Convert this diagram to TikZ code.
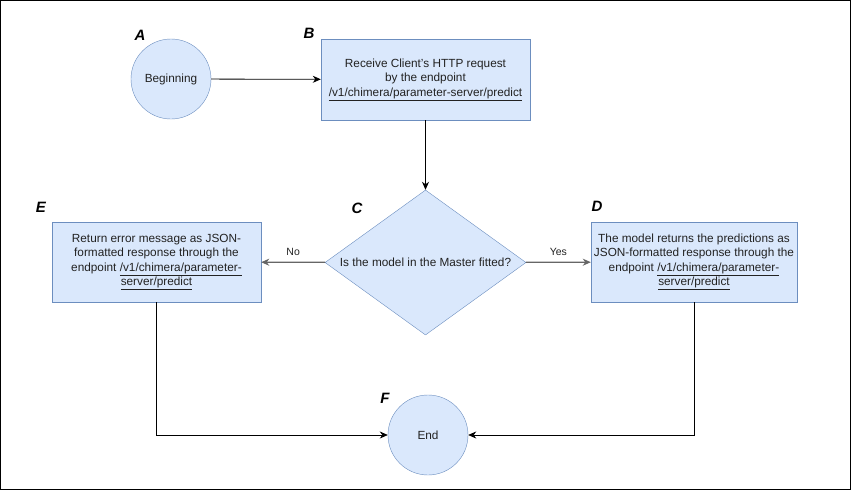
\documentclass[tikz,border=0pt]{standalone}
\usepackage{fontspec}
\setmainfont{Liberation Sans}
\usetikzlibrary{shapes.geometric,arrows.meta}

\definecolor{boxfill}{HTML}{DAE8FC}
\definecolor{boxline}{HTML}{6C8EBF}
\definecolor{txtgray}{HTML}{222222}
\definecolor{arrgray}{HTML}{666666}

\begin{document}
\begin{tikzpicture}[x=1pt,y=-1pt,
    every node/.style={font=\fontsize{11.8}{14.5}\selectfont, text=txtgray},
    terminal/.style={draw=boxline, fill=boxfill, circle, minimum size=80pt, inner sep=0pt},
    process/.style={draw=boxline, fill=boxfill, rectangle, align=center, inner sep=0pt},
    decision/.style={draw=boxline, fill=boxfill, diamond, aspect=1.39, inner sep=0pt,
        minimum width=201pt, minimum height=145pt},
    tag/.style={font=\fontsize{15}{18}\selectfont\bfseries\itshape, text=black},
    flow/.style={-{Stealth[length=8pt,width=7pt,inset=2.5pt]}, line width=0.8pt},
    choice/.style={flow, draw=arrgray, line width=1.3pt}]

      \useasboundingbox (0,0) rectangle (852,491);
      \draw[line width=1pt] (0.5,0.5) rectangle (850.5,489.5);

      \node[terminal] (a) at (171,79) {Beginning};
      \node[process, minimum width=209pt, minimum height=81pt] (b) at (425.5,79.5)
        {Receive Client's HTTP request\\ by the endpoint\\ \underline{/v1/chimera/parameter-server/predict}};
      \node[decision] (c) at (425.5,262.5) {Is the model in the Master fitted?};
      \node[process, minimum width=206pt, minimum height=80pt] (d) at (694,262)
        {The model returns the predictions as\\ JSON-formatted response through the\\
         endpoint \underline{/v1/chimera/parameter-}\\ \underline{server/predict}};
      \node[process, minimum width=209pt, minimum height=80pt] (e) at (156.5,262)
        {Return error message as JSON-\\ formatted response through the\\
         endpoint \underline{/v1/chimera/parameter-}\\ \underline{server/predict}};
      \node[terminal] (f) at (428,435) {End};

      \node[tag] (la) at (140,35) {A};
      \node[tag] (lb) at (309,33) {B};
      \node[tag] (lc) at (357,208) {C};
      \node[tag] (ld) at (597,206) {D};
      \node[tag] (le) at (41,207) {E};
      \node[tag] (lf) at (385,398) {F};

      \draw[flow] (a) -- (b);
      \draw[flow] (b) -- (c);
      \draw[choice] (c) -- (e) node [midway, above=3pt, font=\fontsize{10.5}{12}\selectfont] {No};
      \draw[choice] (c) -- (d) node [midway, above=3pt, font=\fontsize{10.5}{12}\selectfont] {Yes};
      \draw[flow] (e.south) |- (f.west);
      \draw[flow] (d.south) |- (f.east);
    \end{tikzpicture}
\end{document}
